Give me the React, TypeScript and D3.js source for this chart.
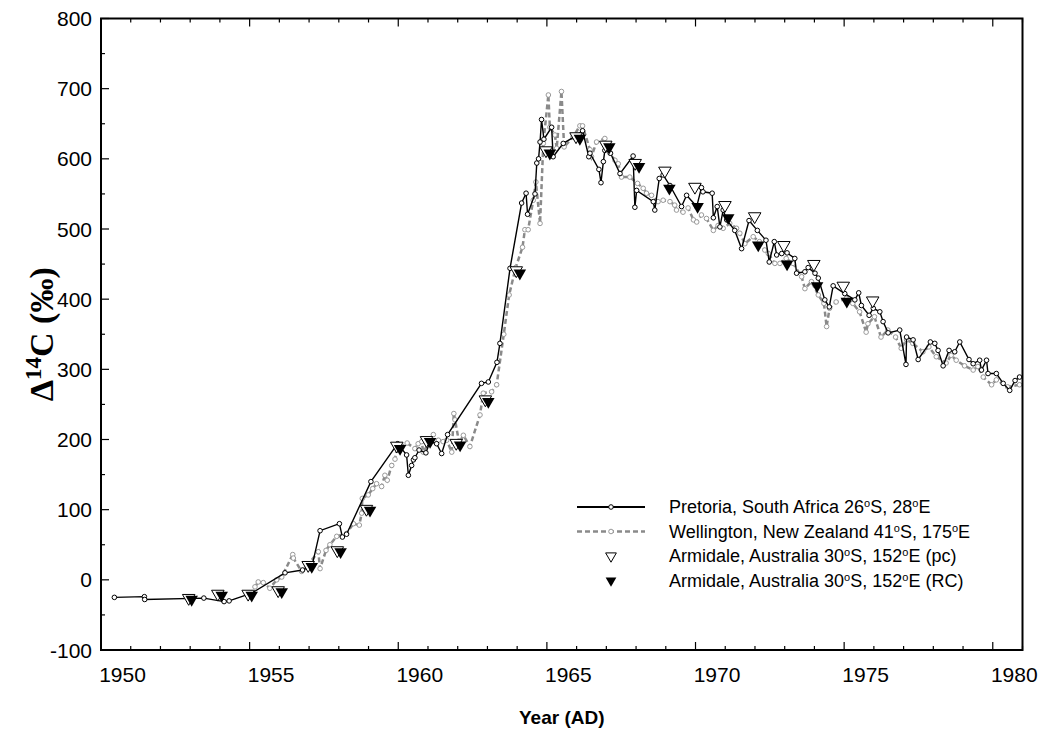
import React, { useEffect, useRef } from 'react';
import * as d3 from 'd3';

// Pretoria, South Africa
const pretoriaYears = [
  1950.45, 1951.46, 1951.47, 1953.46, 1954.14, 1954.31, 1955.07, 1956.19, 1956.78, 1957.1,
  1957.37, 1958.02, 1958.12, 1958.26, 1959.08, 1959.98, 1960.28, 1960.34, 1960.45, 1960.51,
  1960.56, 1960.7, 1960.93, 1961.07, 1961.29, 1961.46, 1961.66, 1962.8, 1963.03, 1963.32,
  1963.42, 1963.76, 1964.15, 1964.3, 1964.35, 1964.6, 1964.66, 1964.72, 1964.77, 1964.82,
  1964.9, 1965.16, 1965.21, 1965.55, 1965.95, 1966.2, 1966.41, 1966.45, 1966.75, 1966.82,
  1966.9, 1966.95, 1967.14, 1967.46, 1967.9, 1967.96, 1968.02, 1968.58, 1968.63, 1968.78,
  1968.91, 1969.14, 1969.53, 1969.7, 1970.04, 1970.2, 1970.25, 1970.56, 1970.6, 1970.73,
  1970.82, 1970.93, 1971.05, 1971.32, 1971.55, 1971.8, 1972.08, 1972.37, 1972.48, 1972.65,
  1972.73, 1972.9, 1973.08, 1973.34, 1973.4, 1973.68, 1973.79, 1974.02, 1974.13, 1974.35,
  1974.5, 1974.63, 1975.02, 1975.36, 1975.49, 1975.58, 1975.84, 1975.98, 1976.2, 1976.31,
  1976.48, 1976.87, 1977.08, 1977.1, 1977.32, 1977.49, 1977.9, 1978.05, 1978.16, 1978.33,
  1978.53, 1978.72, 1978.89, 1979.2, 1979.34, 1979.56, 1979.62, 1979.79, 1979.84, 1980.12,
  1980.35, 1980.57, 1980.75, 1980.9
];
const pretoriaD14C = [
  -25, -24, -28, -26, -31, -30, -19, 10, 14, 20,
  70, 80, 61, 65, 140, 194, 178, 149, 163, 171,
  174, 185, 181, 197, 194, 180, 207, 280, 282, 310,
  337, 444, 537, 551, 521, 550, 594, 600, 624, 656,
  628, 645, 603, 622, 632, 640, 603, 608, 585, 566,
  596, 612, 608, 579, 604, 531, 555, 539, 527, 572,
  577, 562, 532, 548, 532, 559, 553, 551, 516, 532,
  503, 527, 513, 498, 472, 512, 498, 484, 453, 482,
  463, 465, 466, 458, 437, 439, 445, 437, 430, 399,
  389, 419, 408, 399, 409, 391, 377, 387, 382, 368,
  352, 356, 307, 346, 342, 314, 339, 337, 327, 305,
  327, 325, 339, 314, 308, 313, 299, 313, 294, 294,
  280, 270, 284, 289
];

// Wellington, New Zealand
const wellingtonYears = [
  1955.18, 1955.29, 1955.46, 1955.68, 1955.91, 1956.08, 1956.45, 1956.47, 1956.75, 1956.92,
  1957.31, 1957.37, 1957.57, 1957.7, 1957.93, 1958.26, 1958.49, 1958.69, 1958.77, 1958.79,
  1958.99, 1959.14, 1959.27, 1959.44, 1959.55, 1959.63, 1959.78, 1959.89, 1959.95, 1960.11,
  1960.3, 1960.56, 1960.67, 1960.79, 1960.84, 1961.01, 1961.18, 1961.35, 1961.51, 1961.63,
  1961.8, 1961.87, 1961.91, 1962.05, 1962.19, 1962.41, 1962.75, 1962.86, 1963.14, 1963.31,
  1963.55, 1963.73, 1963.95, 1964.18, 1964.26, 1964.37, 1964.54, 1964.63, 1964.77, 1964.88,
  1965.05, 1965.1, 1965.27, 1965.33, 1965.49, 1965.58, 1965.88, 1966.11, 1966.2, 1966.45,
  1966.5, 1966.67, 1966.95, 1967.12, 1967.29, 1967.4, 1967.51, 1967.79, 1968.05, 1968.24,
  1968.35, 1968.52, 1968.74, 1968.91, 1969.14, 1969.3, 1969.36, 1969.58, 1969.75, 1969.93,
  1970.04, 1970.2, 1970.37, 1970.6, 1970.76, 1970.93, 1971.15, 1971.38, 1971.49, 1971.66,
  1971.94, 1972.15, 1972.33, 1972.45, 1972.67, 1972.84, 1973.05, 1973.28, 1973.57, 1973.68,
  1973.9, 1974.13, 1974.32, 1974.41, 1974.51, 1974.73, 1975.07, 1975.29, 1975.52, 1975.74,
  1975.8, 1976.02, 1976.24, 1976.47, 1976.73, 1976.92, 1977.1, 1977.31, 1977.65, 1977.85,
  1978.1, 1978.43, 1978.6, 1978.77, 1979.05, 1979.34, 1979.5, 1979.68, 1979.96, 1980.12,
  1980.5, 1980.9
];
const wellingtonD14C = [
  -10, -3, -4, -12, 0, 4, 36, 31, 12, 19,
  40, 16, 42, 50, 62, 66, 80, 78, 95, 116,
  121, 130, 137, 133, 149, 142, 163, 172, 187, 190,
  195, 187, 194, 197, 182, 194, 207, 199, 197, 199,
  182, 237, 228, 195, 206, 190, 235, 266, 268, 278,
  350, 406, 445, 474, 499, 499, 541, 567, 508, 622,
  691, 645, 634, 615, 696, 617, 631, 647, 647, 613,
  603, 624, 629, 608, 598, 593, 574, 574, 565, 558,
  551, 548, 539, 541, 539, 534, 527, 524, 530, 513,
  510, 520, 515, 498, 505, 501, 508, 501, 494, 479,
  489, 482, 470, 465, 451, 451, 458, 451, 432, 415,
  425, 406, 394, 361, 387, 396, 401, 394, 382, 353,
  365, 375, 346, 356, 346, 330, 342, 337, 325, 332,
  318, 309, 320, 313, 305, 299, 304, 289, 278, 285,
  275, 278
];

// Armidale, Australia (pc) – open triangles
const armidalePcYears = [
  1952.95, 1953.93, 1954.95, 1955.96, 1956.97, 1957.95, 1958.93, 1959.95, 1960.95, 1961.95,
  1962.93, 1963.97, 1964.97, 1965.98, 1966.98, 1967.97, 1968.97, 1969.98, 1970.99, 1971.99,
  1972.97, 1973.98, 1974.97, 1975.96
];
const armidalePcD14C = [
  -26, -20, -20, -15, 21, 42, 101, 191, 199, 195,
  257, 441, 612, 632, 620, 594, 583, 560, 534, 518,
  477, 450, 419, 398
];

// Armidale, Australia (RC) – filled triangles
const armidaleRcYears = [
  1953.05, 1954.06, 1955.07, 1956.08, 1957.09, 1958.06, 1959.05, 1960.06, 1961.07, 1962.08,
  1963.03, 1964.09, 1965.1, 1966.11, 1967.1, 1968.1, 1969.12, 1970.07, 1971.1, 1972.11,
  1973.08, 1974.09, 1975.09
];
const armidaleRcD14C = [
  -28, -22, -22, -17, 19, 40, 99, 187, 197, 192,
  254, 437, 608, 629, 617, 589, 558, 532, 516, 477,
  450, 419, 397
];

const xTickLabels = [1950, 1955, 1960, 1965, 1970, 1975, 1980];
const yTickLabels = [-100, 0, 100, 200, 300, 400, 500, 600, 700, 800];

const legendLabels = [
  ['Pretoria, South Africa 26', 'S, 28', 'E', ''],
  ['Wellington, New Zealand 41', 'S, 175', 'E', ''],
  ['Armidale, Australia 30', 'S, 152', 'E', ' (pc)'],
  ['Armidale, Australia 30', 'S, 152', 'E', ' (RC)']
];

const SANS = "'Liberation Sans', Arial, sans-serif";
const SERIF = "'Liberation Serif', 'Times New Roman', serif";

const App = () => {
  const ref = useRef<SVGSVGElement | null>(null);

  useEffect(() => {
    if (ref.current) draw();
  }, []);

  const draw = () => {
    const svg = d3.select(ref.current);
    svg.selectAll('*').remove();

    const left = 101, right = 1022.5, top = 18.5, bottom = 650;

    const x = d3.scaleLinear().domain([1950, 1981]).range([left, right]);
    const y = d3.scaleLinear().domain([-100, 800]).range([bottom, top]);

    const pretoria = d3.zip(pretoriaYears, pretoriaD14C);
    const wellington = d3.zip(wellingtonYears, wellingtonD14C);
    const armPc = d3.zip(armidalePcYears, armidalePcD14C);
    const armRc = d3.zip(armidaleRcYears, armidaleRcD14C);

    const line = d3.line<number[]>().x(d => x(d[0])).y(d => y(d[1]));

    // 数据层
    const g = svg.append('g');

    g.append('path')
      .datum(wellington)
      .attr('d', line)
      .attr('fill', 'none')
      .attr('stroke', '#8a8a8a')
      .attr('stroke-width', 2.5)
      .attr('stroke-dasharray', '5,3');

    g.selectAll('.wcirc')
      .data(wellington)
      .enter()
      .append('circle')
      .attr('cx', d => x(d[0]))
      .attr('cy', d => y(d[1]))
      .attr('r', 2.3)
      .attr('fill', '#fff')
      .attr('stroke', '#999')
      .attr('stroke-width', 1);

    g.append('path')
      .datum(pretoria)
      .attr('d', line)
      .attr('fill', 'none')
      .attr('stroke', '#000')
      .attr('stroke-width', 1.4);

    g.selectAll('.pcirc')
      .data(pretoria)
      .enter()
      .append('circle')
      .attr('cx', d => x(d[0]))
      .attr('cy', d => y(d[1]))
      .attr('r', 2.3)
      .attr('fill', '#fff')
      .attr('stroke', '#000')
      .attr('stroke-width', 1);

    const tri = d3.symbol().type(d3.symbolTriangle).size(68)();

    g.selectAll('.pc')
      .data(armPc)
      .enter()
      .append('path')
      .attr('d', tri)
      .attr('transform', d => `translate(${x(d[0])},${y(d[1])}) rotate(180)`)
      .attr('fill', '#fff')
      .attr('stroke', '#000')
      .attr('stroke-width', 1);

    g.selectAll('.rc')
      .data(armRc)
      .enter()
      .append('path')
      .attr('d', tri)
      .attr('transform', d => `translate(${x(d[0])},${y(d[1])}) rotate(180)`)
      .attr('fill', '#000');

    // 坐标轴框
    const axes = svg.append('g');
    const xMinor = d3.range(1950, 1982, 1);
    const yMinor = d3.range(-100, 801, 50);

    xMinor.forEach(v => {
      const len = v % 5 === 0 ? 8 : 4;
      axes.append('line')
        .attr('x1', x(v)).attr('x2', x(v))
        .attr('y1', bottom).attr('y2', bottom - len)
        .attr('stroke', '#000').attr('stroke-width', 1.2);
      axes.append('line')
        .attr('x1', x(v)).attr('x2', x(v))
        .attr('y1', top).attr('y2', top + len)
        .attr('stroke', '#000').attr('stroke-width', 1.2);
    });

    yMinor.forEach(v => {
      const len = v % 100 === 0 ? 8 : 4;
      axes.append('line')
        .attr('x1', left).attr('x2', left + len)
        .attr('y1', y(v)).attr('y2', y(v))
        .attr('stroke', '#000').attr('stroke-width', 1.2);
    });

    axes.append('rect')
      .attr('x', left).attr('y', top)
      .attr('width', right - left).attr('height', bottom - top)
      .attr('fill', 'none')
      .attr('stroke', '#000')
      .attr('stroke-width', 2);

    axes.selectAll('.xl')
      .data(xTickLabels)
      .enter()
      .append('text')
      .attr('x', d => x(d) + 21.5)
      .attr('y', 682)
      .attr('text-anchor', 'middle')
      .style('font-family', SANS)
      .style('font-size', '21px')
      .text(d => d);

    axes.selectAll('.yl')
      .data(yTickLabels)
      .enter()
      .append('text')
      .attr('x', 92)
      .attr('y', d => y(d))
      .attr('dy', '0.36em')
      .attr('text-anchor', 'end')
      .style('font-family', SANS)
      .style('font-size', '21px')
      .text(d => d);

    // 坐标轴标题
    svg.append('text')
      .attr('x', (left + right) / 2)
      .attr('y', 724)
      .attr('text-anchor', 'middle')
      .style('font-family', SANS)
      .style('font-size', '19px')
      .style('font-weight', 'bold')
      .text('Year (AD)');

    const yt = svg.append('text')
      .attr('transform', `translate(53, ${(top + bottom) / 2}) rotate(-90)`)
      .attr('text-anchor', 'middle')
      .style('font-family', SERIF)
      .style('font-size', '34px')
      .style('font-weight', 'bold');
    yt.append('tspan').text('Δ');
    yt.append('tspan').attr('dy', -12).style('font-size', '23px').text('14');
    yt.append('tspan').attr('dy', 12).text('C (‰)');

    // 图例
    const rows = [507, 531.5, 556, 580.5];
    const lg = svg.append('g');
    const lx1 = 577, lx2 = 645, sx = 611;

    lg.append('line')
      .attr('x1', lx1).attr('x2', lx2).attr('y1', rows[0]).attr('y2', rows[0])
      .attr('stroke', '#000').attr('stroke-width', 2);
    lg.append('circle')
      .attr('cx', sx).attr('cy', rows[0]).attr('r', 2.3)
      .attr('fill', '#fff').attr('stroke', '#000');

    lg.append('line')
      .attr('x1', lx1).attr('x2', lx2).attr('y1', rows[1]).attr('y2', rows[1])
      .attr('stroke', '#8a8a8a').attr('stroke-width', 2.5).attr('stroke-dasharray', '5,3');
    lg.append('circle')
      .attr('cx', sx).attr('cy', rows[1]).attr('r', 2.3)
      .attr('fill', '#fff').attr('stroke', '#999');

    const legTri = d3.symbol().type(d3.symbolTriangle).size(50)();
    lg.append('path')
      .attr('d', legTri)
      .attr('transform', `translate(${sx},${rows[2]}) rotate(180)`)
      .attr('fill', '#fff').attr('stroke', '#000');
    lg.append('path')
      .attr('d', legTri)
      .attr('transform', `translate(${sx},${rows[3]}) rotate(180)`)
      .attr('fill', '#000');

    legendLabels.forEach((parts, i) => {
      const t = lg.append('text')
        .attr('x', 669)
        .attr('y', rows[i])
        .attr('dy', '0.36em')
        .style('font-family', SANS)
        .style('font-size', '18px');
      t.append('tspan').text(parts[0]);
      t.append('tspan').attr('dy', -6).style('font-size', '11px').text('o');
      t.append('tspan').attr('dy', 6).text(parts[1]);
      t.append('tspan').attr('dy', -6).style('font-size', '11px').text('o');
      t.append('tspan').attr('dy', 6).text(parts[2] + parts[3]);
    });
  };

  return (
    <svg
      ref={ref}
      width={1038}
      height={732}
      style={{ position: 'absolute', left: 0, top: 0, background: '#fff' }}
    />
  );
};

export default App;
